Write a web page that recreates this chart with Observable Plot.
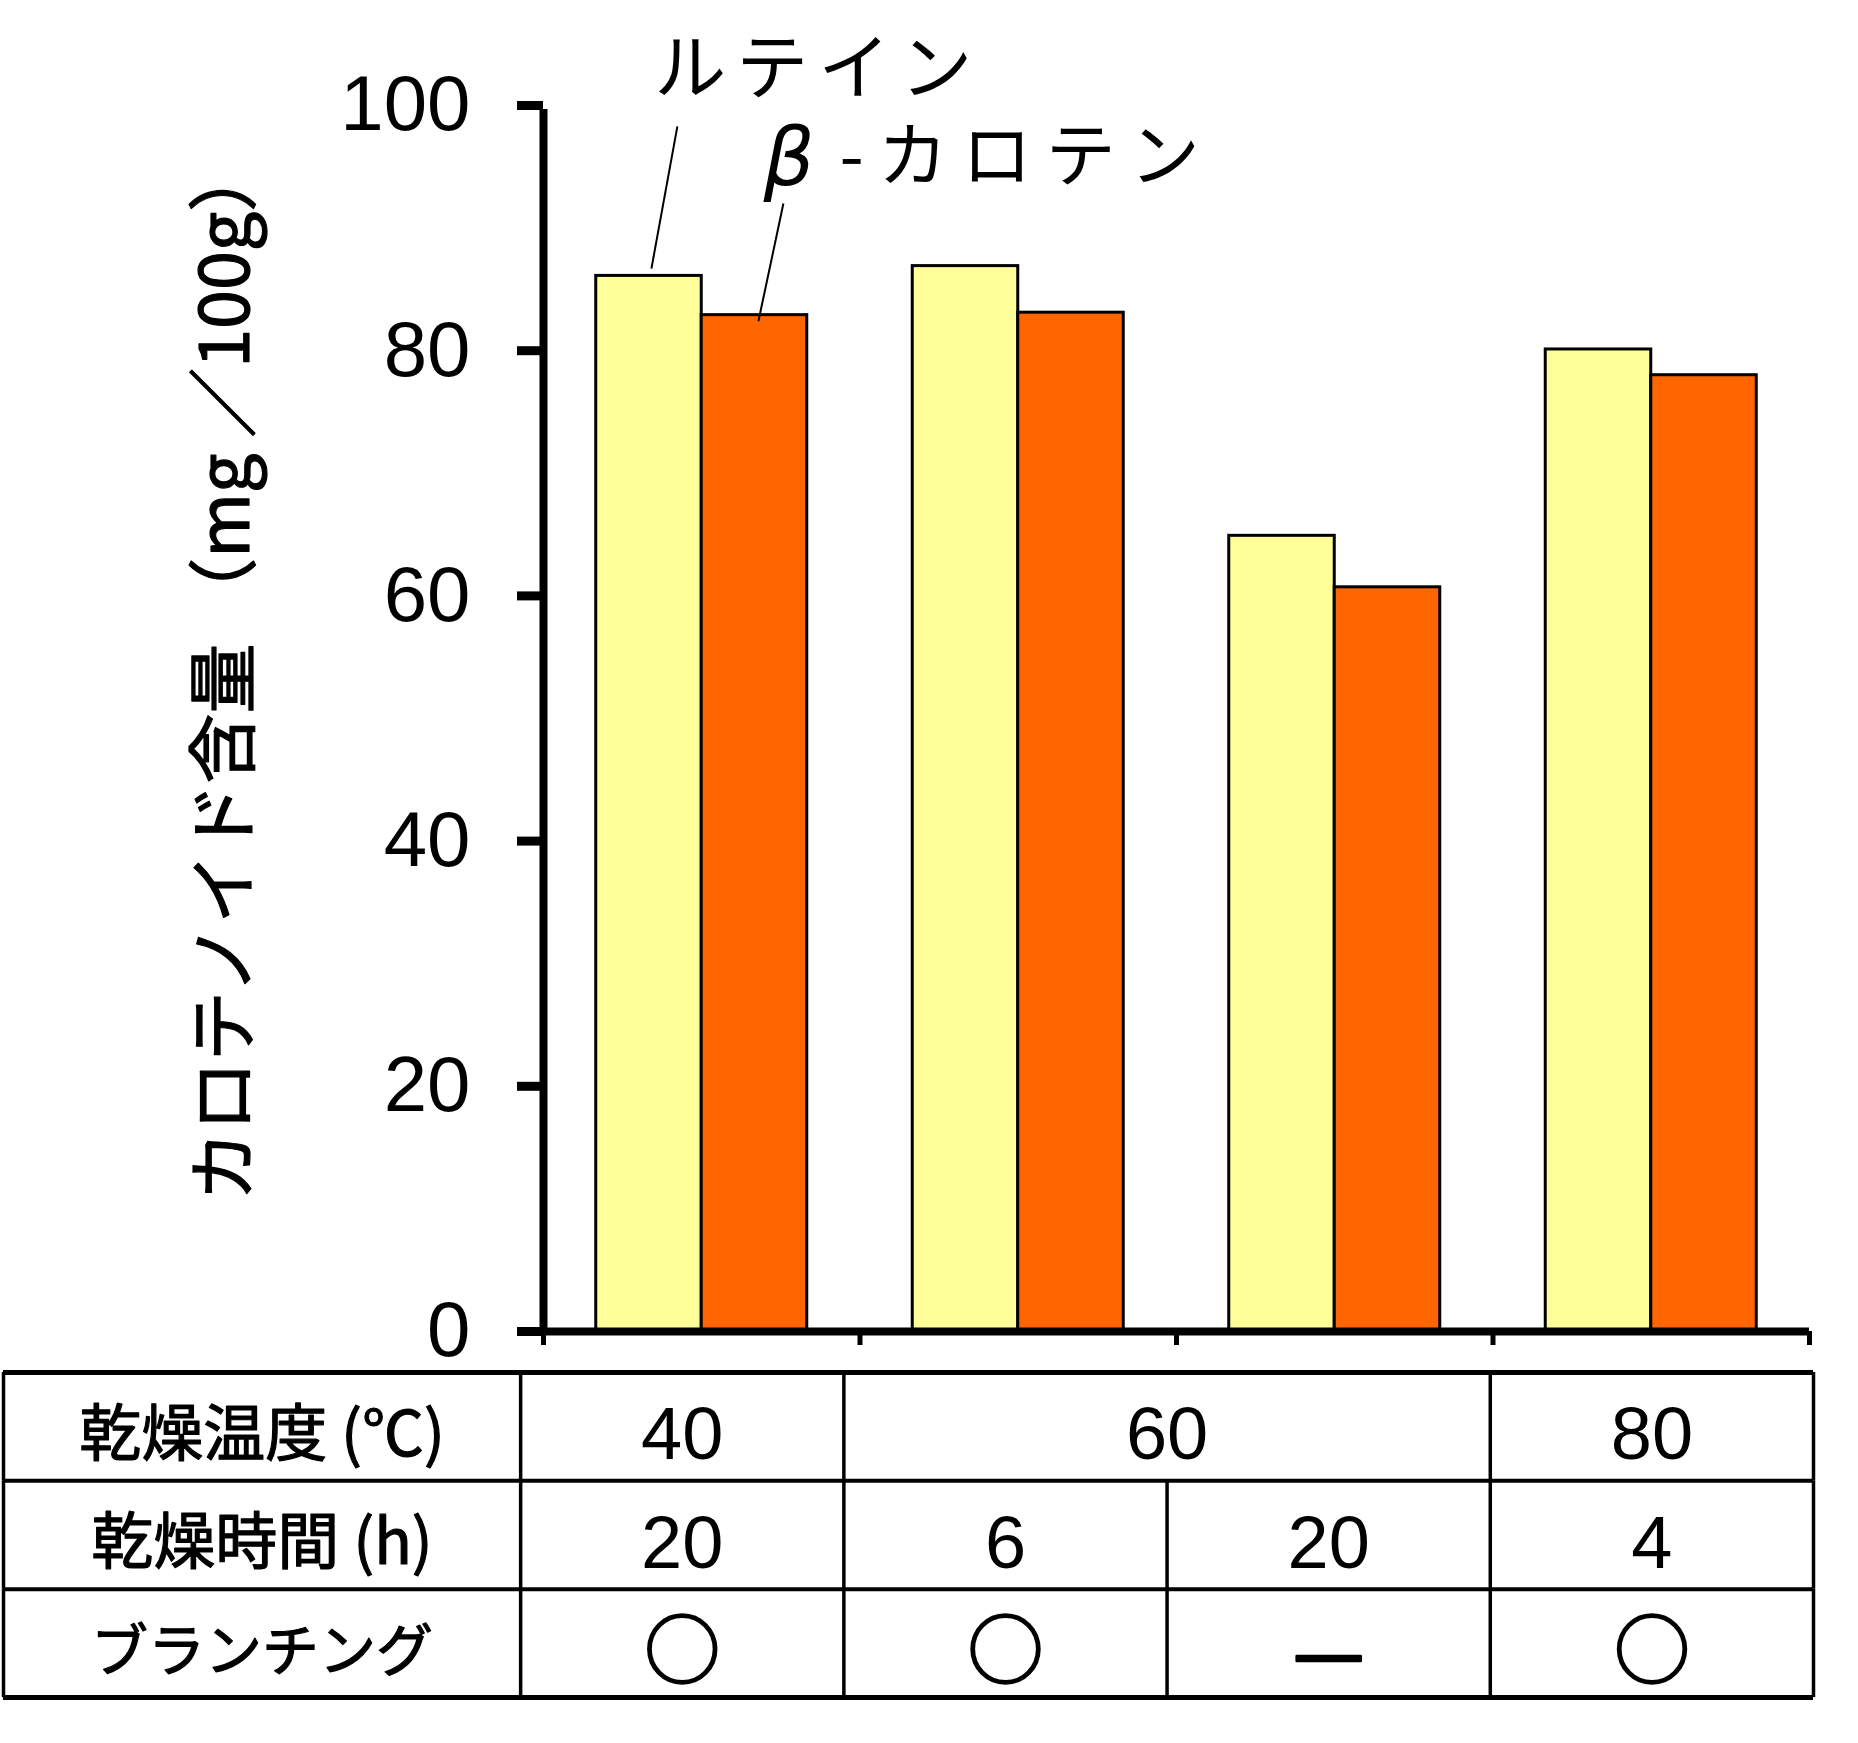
<!DOCTYPE html>
<html><head><meta charset="utf-8">
<script src="https://cdn.jsdelivr.net/npm/d3@7"></script>
<script src="https://cdn.jsdelivr.net/npm/@observablehq/plot@0.6"></script>
<style>
body{margin:0;background:#fff;}
#wrap{width:1858px;}
#wrap svg{display:block;max-width:none;}
</style></head><body><div id="wrap"></div>
<script>
// ---- data ----
const categories = ["40℃ 20h ブランチング○", "60℃ 6h ブランチング○", "60℃ 20h ブランチング—", "80℃ 4h ブランチング○"];
const seriesNames = ["ルテイン", "β-カロテン"];
const seriesColors = ["#FFFF99", "#FF6600"];
const lutein = [86.1, 86.9, 64.9, 80.1];
const betaCarotene = [82.9, 83.1, 60.7, 78.0];
const yTicks = [0, 20, 40, 60, 80, 100];
const yTitle = "カロテノイド含量 （mg ／100g）";
const rowLabels = ["乾燥温度 (℃)", "乾燥時間 (h)", "ブランチング"];
const tempValues = ["40", "60", "60", "80"];
const timeValues = ["20", "6", "20", "4"];
const blanchValues = ["○", "○", "—", "○"];

const JP = "'Noto Sans CJK JP', 'Noto Sans CJK SC', sans-serif";
const NUM = "'Liberation Sans', Arial, sans-serif";
const GREEK = "'DejaVu Sans', sans-serif";

// annotation label anchors (data units)
const annotLabels = [
  {text: "ルテイン", x: 0.35, y: 102.9, style: "normal", size: 72, ls: 10, font: JP},
  {text: "β", x: 0.695, y: 95.6, style: "italic", size: 80, ls: 0, font: GREEK},
  {text: "-カロテン", x: 0.935, y: 95.7, style: "normal", size: 70, ls: 14, font: JP}
];
const leaders = [
  {x1: 0.341, y1: lutein[0] + 0.6, x2: 0.423, y2: 98.3},
  {x1: 0.679, y1: betaCarotene[0] - 0.5, x2: 0.758, y2: 92.0}
];

const bars = categories.flatMap((c, i) => [
  {i, k: 0, series: seriesNames[0], value: lutein[i]},
  {i, k: 1, series: seriesNames[1], value: betaCarotene[i]}
]);

const chart = Plot.plot({
  width: 1858, height: 1362,
  marginLeft: 543, marginRight: 49, marginTop: 105, marginBottom: 31,
  style: {background: "white", color: "black", fontFamily: NUM, overflow: "visible"},
  x: {domain: [0, categories.length], axis: null},
  y: {domain: [0, 100], axis: null},
  color: {domain: seriesNames, range: seriesColors},
  marks: [
    Plot.rectY(bars, {
      x1: d => d.i + 1/6 + d.k/3, x2: d => d.i + 1/6 + (d.k + 1)/3,
      y1: 0, y2: "value", fill: "series", stroke: "black", strokeWidth: 3
    }),
    Plot.axisY({ticks: yTicks, tickSize: 26, tickPadding: 47, fontSize: 78, strokeWidth: 9, fontFamily: NUM, label: null}),
    Plot.axisX({ticks: d3.range(categories.length + 1), tickFormat: () => "", tickSize: 14, strokeWidth: 5, label: null}),
    Plot.ruleX([0], {y1: 0, y2: 100, strokeWidth: 8, dy: 4}),
    Plot.ruleY([0], {x1: 0, x2: categories.length, strokeWidth: 8}),
    Plot.link(leaders, {x1: "x1", y1: "y1", x2: "x2", y2: "y2", stroke: "black", strokeWidth: 2}),
    Plot.text(annotLabels, {
      x: "x", y: "y", text: "text", textAnchor: "start", fill: "black"
    }),
    Plot.text([yTitle], {
      frameAnchor: "left", textAnchor: "middle", rotate: -90, dx: -317, dy: -47,
      fontSize: 70, fontFamily: JP, fill: "black", stroke: "black", strokeWidth: 1.2
    })
  ]
});
// per-datum font tweaks for the annotation labels
chart.querySelectorAll("text").forEach(t => {
  const a = annotLabels.find(d => d.text === t.textContent);
  if (a) {
    t.setAttribute("font-size", a.size); t.setAttribute("font-style", a.style);
    t.setAttribute("letter-spacing", a.ls); t.setAttribute("font-family", a.font);
  }
});

// ---- table ----
const LABEL_W = 1.6;
const n = categories.length;
const tempSpans = [];
tempValues.forEach((v, i) => {
  if (i > 0 && tempValues[i - 1] === v) tempSpans[tempSpans.length - 1].to = i + 1;
  else tempSpans.push({text: v, from: i, to: i + 1});
});
const vlines = [];
[-LABEL_W, ...tempSpans.map(s => s.from), n].forEach(x => vlines.push({x, y1: 0, y2: 1}));
[1, 2].forEach(r => [-LABEL_W, ...d3.range(n + 1)].forEach(x => vlines.push({x, y1: r, y2: r + 1})));
const cells = [
  ...rowLabels.map((t, r) => ({text: t, x: -LABEL_W / 2, y: r + 0.5, kind: "label", size: r === 2 ? 57 : 62})),
  ...tempSpans.map(s => ({text: s.text, x: (s.from + s.to) / 2, y: 0.5, kind: "num"})),
  ...timeValues.map((t, i) => ({text: t, x: i + 0.5, y: 1.5, kind: "num"})),
  ...blanchValues.map((t, i) => ({text: t, x: i + 0.5, y: 2.5, kind: t === "○" ? "circle" : "dash"}))
];

const table = Plot.plot({
  width: 1858, height: 381,
  marginLeft: 3, marginRight: 45, marginTop: 10, marginBottom: 46,
  style: {background: "white", color: "black", overflow: "visible"},
  x: {domain: [-LABEL_W, n], axis: null},
  y: {domain: [0, rowLabels.length], reverse: true, axis: null},
  marks: [
    Plot.ruleY(d3.range(rowLabels.length + 1), {x1: -LABEL_W, x2: n, strokeWidth: d => (d === 0 || d === rowLabels.length) ? 5 : 4}),
    Plot.ruleX(vlines, {x: "x", y1: "y1", y2: "y2", strokeWidth: 3.5}),
    Plot.text(cells.filter(d => d.kind === "label"), {x: "x", y: "y", text: "text", fontSize: d => d.size, fontFamily: JP, dy: 9, fill: "black", stroke: "black", strokeWidth: 1.2}),
    Plot.text(cells.filter(d => d.kind === "num"), {x: "x", y: "y", text: "text", fontSize: 74, fontFamily: NUM, dy: 9, fill: "black"}),
    Plot.text(cells.filter(d => d.kind === "circle"), {x: "x", y: "y", text: "text", fontSize: 76, fontFamily: JP, dy: 10, fill: "black", stroke: "black", strokeWidth: 2}),
    Plot.text(cells.filter(d => d.kind === "dash"), {x: "x", y: "y", text: "text", fontSize: 80, fontFamily: JP, dy: 12, fill: "black", stroke: "black", strokeWidth: 2.6})
  ]
});
// fontSize channel for labels
table.querySelectorAll("text").forEach(t => {
  const c = cells.find(d => d.kind === "label" && d.text === t.textContent);
  if (c) t.setAttribute("font-size", c.size);
});

document.getElementById("wrap").append(chart, table);
</script></body></html>
